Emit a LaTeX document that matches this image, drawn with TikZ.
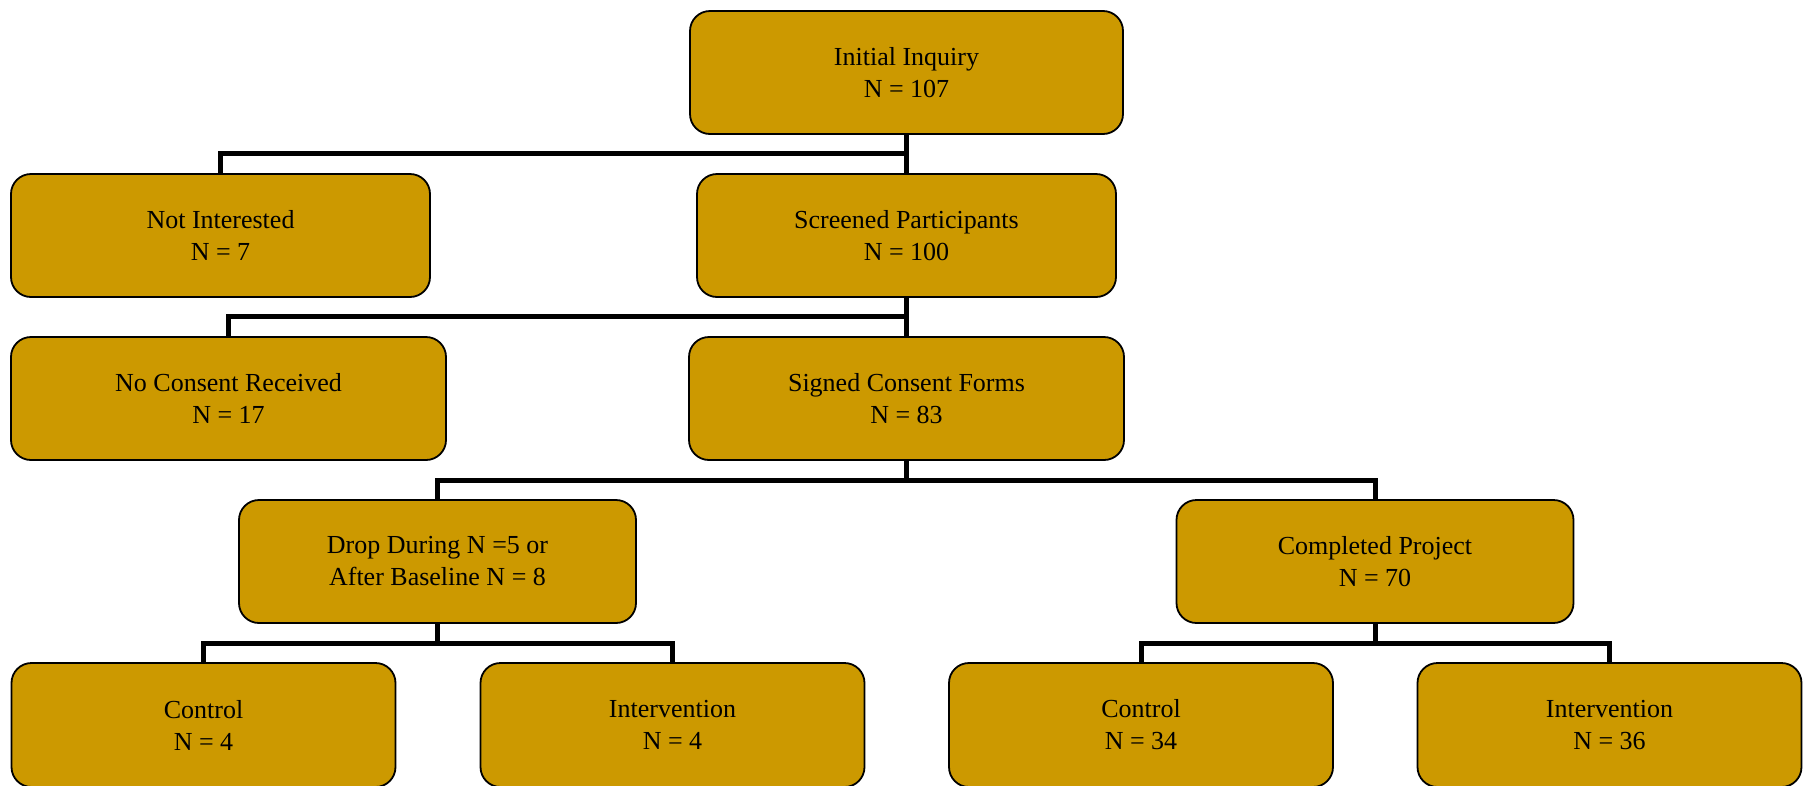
\documentclass[tikz,border=0pt]{standalone}
\usepackage{fontspec}
\setmainfont{Liberation Serif}
\definecolor{boxgold}{RGB}{204,153,0}
\begin{document}
\begin{tikzpicture}[x=1pt,y=-1pt,
  box/.style={draw=black,line width=1.8pt,fill=boxgold,rounded corners=20pt,
    inner sep=0pt,align=center,font=\fontsize{26}{32}\selectfont},
  conn/.style={draw=black,line width=5pt}]
\useasboundingbox[fill=white] (0,0) rectangle (1808,785);
\node[box,minimum width=433pt,minimum height=123pt] (init) at (906.5,72.5) {Initial Inquiry\\N = 107};
\node[box,minimum width=419pt,minimum height=123pt] (noint) at (220.5,235.5) {Not Interested\\N = 7};
\node[box,minimum width=419pt,minimum height=123pt] (screen) at (906.5,235.5) {Screened Participants\\N = 100};
\node[box,minimum width=435pt,minimum height=123pt] (nocons) at (228.5,398.5) {No Consent Received\\N = 17};
\node[box,minimum width=435pt,minimum height=123pt] (signed) at (906.5,398.5) {Signed Consent Forms\\N = 83};
\node[box,minimum width=397pt,minimum height=123pt] (drop) at (437.5,561.5) {Drop During N =5 or\\After Baseline N = 8};
\node[box,minimum width=397pt,minimum height=123pt] (compl) at (1375,561.5) {Completed Project\\N = 70};
\node[box,minimum width=384pt,minimum height=124pt] (c1) at (203.5,725) {Control\\N = 4};
\node[box,minimum width=384pt,minimum height=124pt] (i1) at (672.5,725) {Intervention\\N = 4};
\node[box,minimum width=384pt,minimum height=124pt] (c2) at (1141,725) {Control\\N = 34};
\node[box,minimum width=384pt,minimum height=124pt] (i2) at (1609.5,725) {Intervention\\N = 36};
\coordinate (j1) at (init.south |- 0,153);
\coordinate (j2) at (screen.south |- 0,316);
\coordinate (j3) at (signed.south |- 0,480);
\coordinate (j4) at (drop.south |- 0,643);
\coordinate (j5) at (compl.south |- 0,643);
\draw[conn] (init.south) -- (screen.north);
\draw[conn] (noint.north) |- (j1);
\draw[conn] (screen.south) -- (signed.north);
\draw[conn] (nocons.north) |- (j2);
\draw[conn] (signed.south) -- (j3);
\draw[conn] (drop.north) |- (j3) -| (compl.north);
\draw[conn] (drop.south) -- (j4);
\draw[conn] (c1.north) |- (j4) -| (i1.north);
\draw[conn] (compl.south) -- (j5);
\draw[conn] (c2.north) |- (j5) -| (i2.north);
\end{tikzpicture}
\end{document}
